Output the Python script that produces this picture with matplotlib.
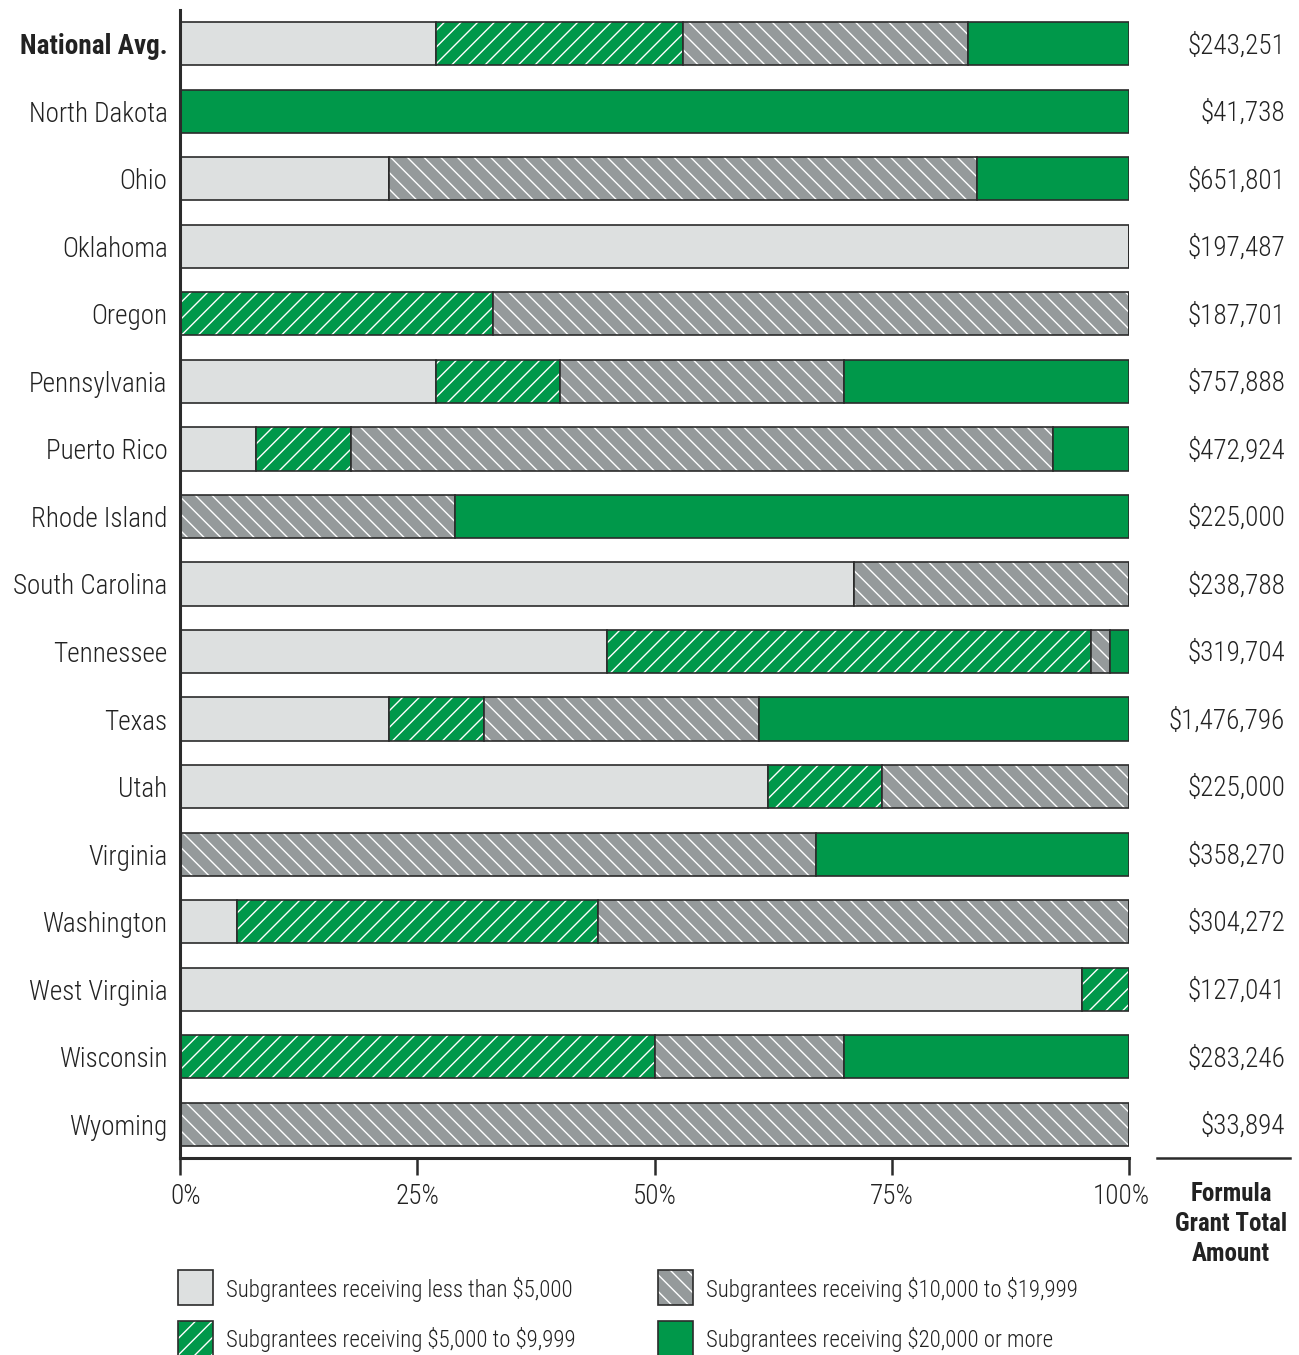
import matplotlib
matplotlib.use("Agg")
import matplotlib.pyplot as plt
from matplotlib import font_manager
from matplotlib.patches import Rectangle
from matplotlib.lines import Line2D
import matplotlib.transforms as mtransforms

# the reference uses a narrow grotesque; pick a condensed face if there is one
names = {f.name for f in font_manager.fontManager.ttflist}
FONT = 'DejaVu Sans'
for cand in ['Roboto Condensed', 'Liberation Sans Narrow', 'Open Sans Condensed']:
    if cand in names:
        FONT = cand
        break

plt.rcParams['font.family'] = [FONT, 'DejaVu Sans']
plt.rcParams['text.parse_math'] = False
plt.rcParams['hatch.color'] = 'white'
plt.rcParams['hatch.linewidth'] = 1.0

states = ["National Avg.", "North Dakota", "Ohio", "Oklahoma", "Oregon", "Pennsylvania",
          "Puerto Rico", "Rhode Island", "South Carolina", "Tennessee", "Texas", "Utah",
          "Virginia", "Washington", "West Virginia", "Wisconsin", "Wyoming"]
under_5k = [27, 0, 22, 100, 0, 27, 8, 0, 71, 45, 22, 62, 0, 6, 95, 0, 0]
k5_to_10k = [26, 0, 0, 0, 33, 13, 10, 0, 0, 51, 10, 12, 0, 38, 5, 50, 0]
k10_to_20k = [30, 0, 62, 0, 67, 30, 74, 29, 29, 2, 29, 26, 67, 56, 0, 20, 100]
over_20k = [17, 100, 16, 0, 0, 30, 8, 71, 0, 2, 39, 0, 33, 0, 0, 30, 0]
totals = ["$243,251", "$41,738", "$651,801", "$197,487", "$187,701", "$757,888",
          "$472,924", "$225,000", "$238,788", "$319,704", "$1,476,796", "$225,000",
          "$358,270", "$304,272", "$127,041", "$283,246", "$33,894"]
ticks = [0, 25, 50, 75, 100]
tick_labels = ["0%", "25%", "50%", "75%", "100%"]

series = [
    (under_5k, "#DDE0E0", None, "Subgrantees receiving less than $5,000"),
    (k5_to_10k, "#00984A", "//", "Subgrantees receiving $5,000 to $9,999"),
    (k10_to_20k, "#959A9B", "\\\\", "Subgrantees receiving $10,000 to $19,999"),
    (over_20k, "#00984A", None, "Subgrantees receiving $20,000 or more"),
]
edge = "#2b2b2b"
txt = "#222222"

W, H = 1299, 1355
fig = plt.figure(figsize=(W / 100, H / 100), dpi=100)
ax = fig.add_axes([180 / W, 1 - 1158 / H, 949 / W, (1158 - 10) / H])

y = list(range(len(states)))
left = [0] * len(states)
for vals, color, hatch, label in series:
    # fill with white hatch, then outline separately
    ax.barh(y, vals, left=left, height=0.64, color=color, hatch=hatch,
            edgecolor='white' if hatch else color, linewidth=0)
    ax.barh(y, vals, left=left, height=0.64, fill=False, edgecolor=edge, linewidth=1.2)
    left = [a + b for a, b in zip(left, vals)]

fs = 19.5
ax.set_xlim(0, 100)
ax.set_ylim(16.5, -0.5)
ax.set_yticks(y)
ax.set_yticklabels(states, fontsize=fs, color=txt, fontweight='light')
ax.get_yticklabels()[0].set_fontweight('bold')
ax.tick_params(axis='y', length=0, pad=9)
ax.set_xticks(ticks)
ax.set_xticklabels(tick_labels, fontsize=fs, color=txt, fontweight='light')
ax.tick_params(axis='x', length=12, width=1.8, color=edge, pad=6, direction='out')
# end labels sit a little inside in the reference
xl = ax.get_xticklabels()
xl[0].set_transform(xl[0].get_transform() + mtransforms.ScaledTranslation(6 / 100, 0, fig.dpi_scale_trans))
xl[-1].set_transform(xl[-1].get_transform() + mtransforms.ScaledTranslation(-8 / 100, 0, fig.dpi_scale_trans))
for s in ['top', 'right']:
    ax.spines[s].set_visible(False)
for s in ['left', 'bottom']:
    ax.spines[s].set_linewidth(2.2)
    ax.spines[s].set_color(edge)

# amounts column
trans = mtransforms.blended_transform_factory(fig.transFigure, ax.transData)
for i, t in enumerate(totals):
    ax.text(1285 / W, i + 0.03, t, transform=trans, ha='right', va='center', fontsize=fs,
            color=txt, fontweight='light')
fig.add_artist(Line2D([1157 / W, 1290 / W], [1 - 1158 / H] * 2, color=edge, lw=1.8,
                      transform=fig.transFigure))
fig.text(1231 / W, 1 - 1224 / H, "Formula\nGrant Total\nAmount", ha='center', va='center',
         fontsize=18, fontweight='bold', linespacing=1.3, color=txt)

# legend
legend_pos = [(178, 1270), (178, 1321), (658, 1270), (658, 1321)]
for (vals, color, hatch, label), (lx, ly) in zip(series, legend_pos):
    fig.add_artist(Rectangle((lx / W, 1 - (ly + 35) / H), 35 / W, 35 / H, facecolor=color,
                             hatch=hatch, edgecolor='white' if hatch else color, lw=0,
                             transform=fig.transFigure))
    fig.add_artist(Rectangle((lx / W, 1 - (ly + 35) / H), 35 / W, 35 / H, fill=False,
                             edgecolor=edge, lw=1.2, transform=fig.transFigure))
    fig.text((lx + 48) / W, 1 - (ly + 19) / H, label, ha='left', va='center',
             fontsize=16.5, color=txt, fontweight='light')

fig.savefig("out.png", dpi=100)
